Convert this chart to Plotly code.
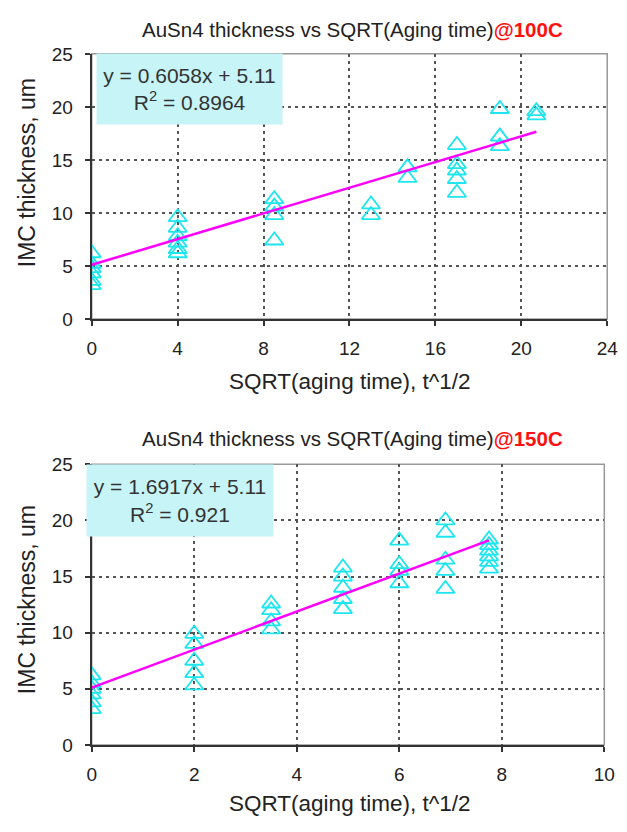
import plotly.graph_objects as go
import numpy as np

# ---- Data: 100C ----
x_100 = [0, 0, 0, 0, 0, 0,
         4, 4, 4, 4, 4, 4,
         8.5, 8.5, 8.5, 8.5,
         13, 13,
         14.7, 14.7,
         17, 17, 17, 17, 17,
         19, 19, 19,
         20.7, 20.7]
y_100 = [6.2, 5.2, 4.8, 4.3, 3.6, 3.2,
         9.6, 8.6, 7.8, 7.2, 6.6, 6.2,
         11.3, 10.6, 9.8, 7.4,
         10.8, 9.8,
         14.3, 13.3,
         16.4, 14.6, 14.0, 13.2, 11.9,
         19.8, 17.2, 16.3,
         19.6, 19.2]
slope_100, intercept_100, r2_100 = 0.6058, 5.11, 0.8964

# ---- Data: 150C ----
x_150 = [0, 0, 0, 0, 0, 0,
         2, 2, 2, 2, 2,
         3.5, 3.5, 3.5, 3.5,
         4.9, 4.9, 4.9, 4.9, 4.9,
         6, 6, 6, 6,
         6.9, 6.9, 6.9, 6.9, 6.9,
         7.75, 7.75, 7.75, 7.75, 7.75, 7.75]
y_150 = [6.2, 5.5, 5.0, 4.5, 3.8, 3.2,
         9.9, 9.0, 7.5, 6.4, 5.3,
         12.6, 12.0, 11.0, 10.3,
         15.8, 15.0, 14.0, 13.0, 12.1,
         18.2, 16.1, 15.5, 14.4,
         20.0, 18.9, 16.5, 15.5, 13.9,
         18.3, 17.8, 17.3, 16.8, 16.3, 15.7]
slope_150, intercept_150, r2_150 = 1.6917, 5.11, 0.921

x_ticks_100 = [0, 4, 8, 12, 16, 20, 24]
x_ticks_150 = [0, 2, 4, 6, 8, 10]
y_ticks = [0, 5, 10, 15, 20, 25]

W, H = 627, 832
CYAN = "#1ee6ee"
MAGENTA = "#ff00ff"
FONT = "Liberation Sans, Arial, sans-serif"
TXT = "#222222"

fig = go.Figure()

def add_panel(xs, ys, slope, intercept, xa, ya):
    fig.add_trace(go.Scatter(
        x=xs, y=ys, mode="markers", xaxis=xa, yaxis=ya,
        marker=dict(symbol="triangle-up-open", size=16, color=CYAN,
                    line=dict(color=CYAN, width=1.8)),
        showlegend=False, hoverinfo="x+y"))
    lx = np.array([0, max(xs)])
    fig.add_trace(go.Scatter(
        x=lx, y=slope * lx + intercept, mode="lines", xaxis=xa, yaxis=ya,
        line=dict(color=MAGENTA, width=2.5), showlegend=False))

add_panel(x_100, y_100, slope_100, intercept_100, "x", "y")
add_panel(x_150, y_150, slope_150, intercept_150, "x2", "y2")

def px_x(p):
    return p / W

def px_y(p):
    return 1 - p / H

axis_common = dict(
    showline=True, linecolor="#333333", linewidth=2,
    ticks="outside", ticklen=5, tickcolor="#333333", tickwidth=1.5,
    showgrid=True, gridcolor="#555555", gridwidth=1.5, griddash="3px,4px",
    zeroline=False, tickfont=dict(family=FONT, size=19, color=TXT),
)

fig.update_layout(
    width=W, height=H, margin=dict(l=0, r=0, t=0, b=0),
    plot_bgcolor="white", paper_bgcolor="white",
    xaxis=dict(domain=[px_x(89), px_x(618)], range=[0, 24], tickvals=x_ticks_100,
               anchor="y", ticklabelstandoff=6, **axis_common),
    yaxis=dict(domain=[px_y(317), px_y(45)], range=[0, 25], tickvals=y_ticks,
               anchor="x", ticklabelstandoff=8, **axis_common),
    xaxis2=dict(domain=[px_x(89), px_x(615)], range=[0, 10], tickvals=x_ticks_150,
                anchor="y2", ticklabelstandoff=6, **axis_common),
    yaxis2=dict(domain=[px_y(754), px_y(466)], range=[0, 25], tickvals=y_ticks,
                anchor="x2", ticklabelstandoff=8, **axis_common),
)

# frames (top/right lighter)
for xa, ya in [("x", "y"), ("x2", "y2")]:
    fig.add_shape(type="rect", xref=f"{xa} domain", yref=f"{ya} domain",
                  x0=0, x1=1, y0=0, y1=1, line=dict(color="#999999", width=1.5),
                  layer="below")

# titles
for txt, ycen in [("@100C", 20), ("@150C", 440)]:
    fig.add_annotation(
        xref="paper", yref="paper", x=px_x(357), y=px_y(ycen),
        xanchor="center", yanchor="middle", showarrow=False,
        text=f"AuSn4 thickness vs SQRT(Aging time)<span style='color:#ff1010'><b>{txt}</b></span>",
        font=dict(family=FONT, size=20.5, color=TXT))

# axis titles
for ycen in [381, 814]:
    fig.add_annotation(
        xref="paper", yref="paper", x=px_x(354), y=px_y(ycen),
        xanchor="center", yanchor="middle", showarrow=False,
        text="SQRT(aging time), t^1/2",
        font=dict(family=FONT, size=22.5, color=TXT))
for ycen in [167, 605]:
    fig.add_annotation(
        xref="paper", yref="paper", x=px_x(22), y=px_y(ycen),
        xanchor="center", yanchor="middle", showarrow=False, textangle=-90,
        text="IMC thickness, um",
        font=dict(family=FONT, size=23, color=TXT))

# equation boxes
def eq_box(slope, intercept, r2, x0, y0, w, h):
    fig.add_annotation(
        xref="paper", yref="paper", x=px_x(x0), y=px_y(y0),
        xanchor="left", yanchor="top", showarrow=False,
        width=w, height=h, bgcolor="#c6f4f7", align="center", valign="middle",
        text=f"y = {slope}x + {intercept:.2f}<br>R<sup>2</sup> = {r2}",
        font=dict(family=FONT, size=21, color="#333333"))

eq_box(slope_100, intercept_100, r2_100, 93, 44, 183, 68)
eq_box(slope_150, intercept_150, r2_150, 83, 466, 184, 69)

fig.write_html(
    "out.html",
    config={"displayModeBar": False},
    post_script="document.body.style.margin='0';document.body.style.overflow='hidden';")
